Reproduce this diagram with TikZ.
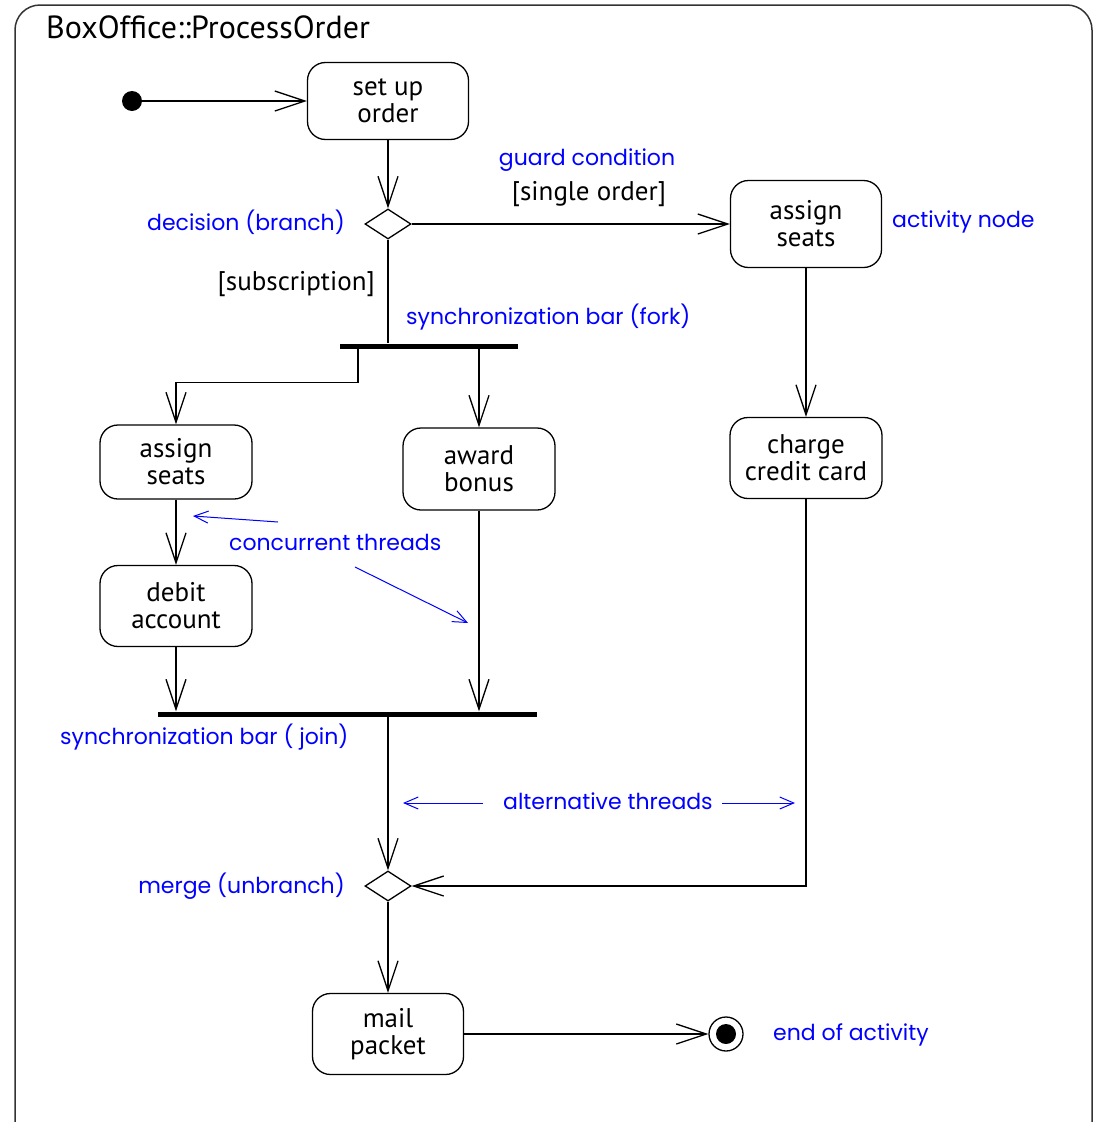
\documentclass[tikz,border=0pt]{standalone}
\usepackage{fontspec}
\setmainfont{PT Sans}
\newfontfamily\bluefont{Poppins}
\usetikzlibrary{arrows.meta,shapes.geometric}
\begin{document}
\begin{tikzpicture}[x=1pt,y=-1pt,
  act/.style={draw, rounded corners=18pt, line width=1.3pt, align=center,
    font=\fontsize{27}{27}\selectfont, inner sep=0pt},
  flow/.style={line width=1.3pt, -{Straight Barb[length=30pt,width=20pt,line width=1.3pt]}},
  plain/.style={line width=1.3pt},
  note/.style={text=blue, font=\bluefont\fontsize{22}{24}\selectfont, inner sep=0pt},
  guard/.style={font=\fontsize{27}{28}\selectfont, inner sep=0pt},
  syncbar/.style={fill=black, inner sep=0pt, minimum height=5pt},
  bluearrow/.style={draw=blue, line width=1pt, -{Straight Barb[length=14pt,width=12pt,line width=1pt]}},
  dec/.style={draw, diamond, aspect=1.55, minimum width=46pt, minimum height=30pt, inner sep=0pt, line width=1.3pt}
]
\useasboundingbox (0,0) rectangle (1097,1122);
\clip (0,0) rectangle (1097,1122);
% frame
\draw[line width=1.5pt, black!80, rounded corners=25pt] (15,5) rectangle (1092,1148);
\node[anchor=west, inner sep=0pt, font=\fontsize{32}{34}\selectfont] (title) at (46,27) {BoxOffice::ProcessOrder};

% nodes
\node[circle, fill=black, minimum size=20pt, inner sep=0pt] (init) at (132,101) {};
\node[act, minimum width=161pt, minimum height=77pt] (setup) at (388,101) {set up\\order};
\node[dec] (dec1) at (388,224) {};
\node[act, minimum width=151pt, minimum height=87pt] (assignR) at (806,224) {assign\\seats};
\node[syncbar, minimum width=178pt] (fork) at (429,346) {};
\node[act, minimum width=152pt, minimum height=74pt] (assignL) at (176,462) {assign\\seats};
\node[act, minimum width=152pt, minimum height=82pt] (award) at (479,469) {award\\bonus};
\node[act, minimum width=152pt, minimum height=81pt] (debit) at (176,606) {debit\\account};
\node[act, minimum width=152pt, minimum height=81pt] (charge) at (806,458) {charge\\credit card};
\node[syncbar, minimum width=379pt] (join) at (347.5,714) {};
\node[dec] (merge) at (388,886) {};
\node[act, minimum width=151pt, minimum height=81pt] (mail) at (388,1034) {mail\\packet};
\node[circle, draw, line width=1.3pt, minimum size=34pt, inner sep=0pt] (endnode) at (726,1034) {};
\fill (endnode.center) circle (10pt);

% connectors
\draw[flow] (init) -- (setup);
\draw[flow] (setup) -- (dec1);
\draw[flow] (dec1) -- (assignR);
\draw[plain] (dec1) -- (fork.north -| dec1);
\draw[flow] ([xshift=-71pt]fork.south) -- ++(0,34) -| (assignL.north);
\draw[flow] (fork.south -| award) -- (award.north);
\draw[flow] (assignL) -- (debit);
\draw[flow] (debit) -- (join.north -| debit);
\draw[flow] (award) -- (join.north -| award);
\draw[flow] (join.south -| merge) -- (merge);
\draw[flow] (assignR) -- (charge);
\draw[flow] (charge.south) |- (merge.east);
\draw[flow] (merge) -- (mail);
\draw[flow] (mail) -- (endnode);

% guard labels
\node[guard] (gsingle) at (589,194) {[single order]};
\node[guard, anchor=east] (gsub) at (375,284) {[subscription]};

% blue annotations
\node[note] (nguard) at (587,160) {guard condition};
\node[note, anchor=west] (nact) at (892,222) {activity node};
\node[note, anchor=east] (ndec) at (345,222) {decision (branch)};
\node[note, anchor=west] (nfork) at (406,317) {synchronization bar (fork)};
\node[note, anchor=west] (nconc) at (229,542) {concurrent threads};
\node[note, anchor=west] (njoin) at (60,737) {synchronization bar ( join)};
\node[note, anchor=west] (nalt) at (503,801) {alternative threads};
\node[note, anchor=east] (nmerge) at (345,886) {merge (unbranch)};
\node[note, anchor=west] (nend) at (773,1035) {end of activity};

\coordinate (c1s) at (278,522);
\coordinate (c1e) at (193,516);
\coordinate (c2s) at (355,567);
\coordinate (c2e) at (468,623);
\coordinate (a1s) at (483,803);
\coordinate (a1e) at (403,803);
\coordinate (a2s) at (722,803);
\coordinate (a2e) at (795,803);
\draw[bluearrow] (c1s) -- (c1e);
\draw[bluearrow] (c2s) -- (c2e);
\draw[bluearrow] (a1s) -- (a1e);
\draw[bluearrow] (a2s) -- (a2e);
\end{tikzpicture}
\end{document}
